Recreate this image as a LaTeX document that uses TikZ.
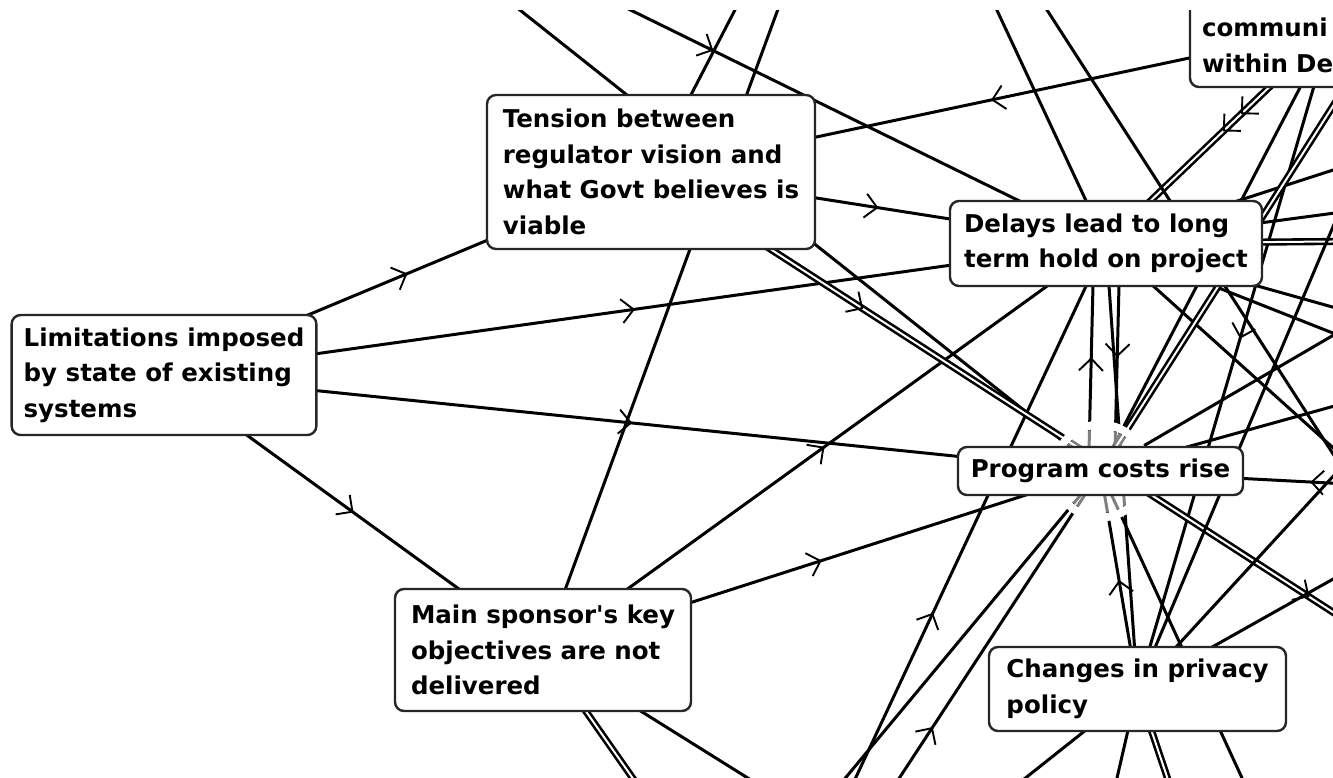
\documentclass[tikz,border=0pt]{standalone}
\usepackage{fontspec}
\setmainfont{DejaVu Sans}
\usetikzlibrary{arrows.meta,decorations.markings}
\pgfdeclarelayer{edges}
\pgfdeclarelayer{halo}
\pgfsetlayers{edges,halo,main}
\begin{document}
\begin{tikzpicture}[x=1pt,y=-1pt,
  box/.style={draw=black!85, line width=2.4pt, rounded corners=9pt, fill=white,
    inner xsep=12pt, inner ysep=0pt, align=left,
    font=\bfseries\fontsize{24.5pt}{35.5pt}\selectfont},
  link/.style={draw=black, line width=3pt},
  dbl/.style={line width=2.6pt, double=white, double distance=2pt},
  arr/.style={postaction={decorate, decoration={markings,
    mark=at position #1 with {\arrow{Straight Barb[length=12pt,width=24pt,line width=1.9pt]}}}}}]
\useasboundingbox (0,0) rectangle (1333,777);

% concept boxes
\begin{scope}
\clip (0,10) rectangle (1333,777);
\node[box, minimum width=328pt, minimum height=154pt] (tension) at (651,172)
  {Tension between\\regulator vision and\\what Govt believes is\\viable};
\node[box, minimum width=302pt, minimum height=120pt] (limit) at (164,375)
  {Limitations imposed\\by state of existing\\systems};
\node[box, minimum width=312pt, minimum height=85pt] (delays) at (1106,243.5)
  {Delays lead to long\\term hold on project};
\node[box, minimum width=285pt, minimum height=48pt] (costs) at (1100.5,471)
  {Program costs rise};
\node[box, minimum width=296pt, minimum height=122pt] (sponsor) at (543,650)
  {Main sponsor{\textquotesingle}s key\\objectives are not\\delivered};
\node[box, minimum width=297pt, minimum height=84pt] (privacy) at (1137.5,689)
  {Changes in privacy\\policy};
\node[box, minimum width=282pt, minimum height=118pt, text width=258pt] (communi) at (1331,28)
  {\phantom{X}\\communi\\within De};
\end{scope}

% links between concepts
\begin{pgfonlayer}{edges}
\begin{scope}
\clip (0,10) rectangle (1333,777);
\draw[link, arr=0.5] (limit.center) -- (tension.center);
\draw[link, arr=0.5] (limit.center) -- (delays.center);
\draw[link, arr=0.5] (limit.center) -- (costs.center);
\draw[link, arr=0.5] (limit.center) -- (sponsor.center);
\draw[link, arr=0.5] (tension.center) -- (delays.center);
\draw[link, arr=0.5] (sponsor.center) -- (delays.center);
\draw[link, arr=0.5] (sponsor.center) -- (costs.center);
\draw[link, arr=0.5] (communi.center) -- (tension.center);
\draw[link, dbl] (communi.center) -- (delays.center);
\path[arr=0.40] (communi.center) -- (delays.center);
\path[arr=0.48] (communi.center) -- (delays.center);
\draw[link, arr=0.47] (communi.center) -- (privacy.center);
\draw[link] (communi.center) -- (costs.center);
\draw[link, arr=0.5, transform canvas={xshift=-12pt}] (costs.center) -- (delays.center);
\draw[link, arr=0.5, transform canvas={xshift=14pt}] (delays.center) -- (costs.center);
\draw[link] (delays.center) -- (privacy.center);
\draw[link, arr=0.5] (privacy.center) -- (costs.center);

% links to concepts outside the frame
\coordinate (nA) at (200,-244);  \draw[link] (nA) -- (costs.center);
\coordinate (nB) at (321,-142);  \draw[link, arr=0.5] (nB) -- (delays.center);
\coordinate (nC) at (823,-160);  \draw[link] (nC) -- (tension.center);
\coordinate (nD) at (895,-310);  \draw[link] (nD) -- (sponsor.center);
\coordinate (nE) at (880,-240);  \draw[link] (nE) -- (delays.center);
\coordinate (nF) at (760,982);   \draw[link, arr=0.5] (nF) -- (delays.center);
\coordinate (nX) at (1500,720);  \draw[link, dbl] (tension.center) -- (nX);
\path[arr=0.25] (tension.center) -- (nX);
\path[arr=0.776] (tension.center) -- (nX);

\coordinate (nR1) at (1500,116); \draw[link] (delays.center) -- (nR1);
\coordinate (nR2) at (1500,191); \draw[link] (delays.center) -- (nR2);
\coordinate (nR3) at (1500,240); \draw[link, dbl] (delays.center) -- (nR3);
\coordinate (nR4) at (1500,354); \draw[link] (delays.center) -- (nR4);
\coordinate (nR5) at (1500,399); \draw[link] (delays.center) -- (nR5);
\coordinate (nR6) at (1500,598); \draw[link] (delays.center) -- (nR6);
\coordinate (nR7) at (1520,493); \draw[link, arr=0.5] (nR7) -- (costs.center);
\coordinate (nR8) at (1500,238); \draw[link] (costs.center) -- (nR8);
\coordinate (nR9) at (1500,360); \draw[link] (costs.center) -- (nR9);
\coordinate (nNE) at (1700,-470); \draw[link, dbl] (costs.center) -- (nNE);
\coordinate (nT1) at (1000,-63); \coordinate (nT2) at (1393,547); \draw[link] (nT1) -- (nT2);
\coordinate (nP1) at (1450,-50); \draw[link] (nP1) -- (privacy.center);
\coordinate (nP2) at (1520,273); \draw[link] (nP2) -- (privacy.center);
\coordinate (nP3) at (1520,474); \draw[link] (nP3) -- (privacy.center);

\coordinate (nS1) at (858,1100); \draw[link, dbl] (sponsor.center) -- (nS1);
\coordinate (nS2) at (1103,1000); \draw[link] (sponsor.center) -- (nS2);
\coordinate (nb1) at (744,900);  \draw[link] (costs.center) -- (nb1);
\coordinate (nb2) at (765,983);  \draw[link, arr=0.5] (nb2) -- (costs.center);
\coordinate (nb3) at (761,988);  \draw[link] (privacy.center) -- (nb3);
\coordinate (nb4) at (1090,895); \draw[link] (privacy.center) -- (nb4);
\coordinate (nb5) at (1200,875); \draw[link, dbl] (privacy.center) -- (nb5);
\coordinate (nb6) at (1266,830); \draw[link] (costs.center) -- (nb6);
\end{scope}
\end{pgfonlayer}

% highlight ring round the central concept
\begin{pgfonlayer}{halo}
\begin{scope}
\clip (0,10) rectangle (1333,777);
\fill[white, opacity=0.5] (costs.center) circle[radius=42pt];
\draw[white, line width=8pt] (costs.center) circle[radius=46.5pt];
\end{scope}
\end{pgfonlayer}
\end{tikzpicture}
\end{document}
